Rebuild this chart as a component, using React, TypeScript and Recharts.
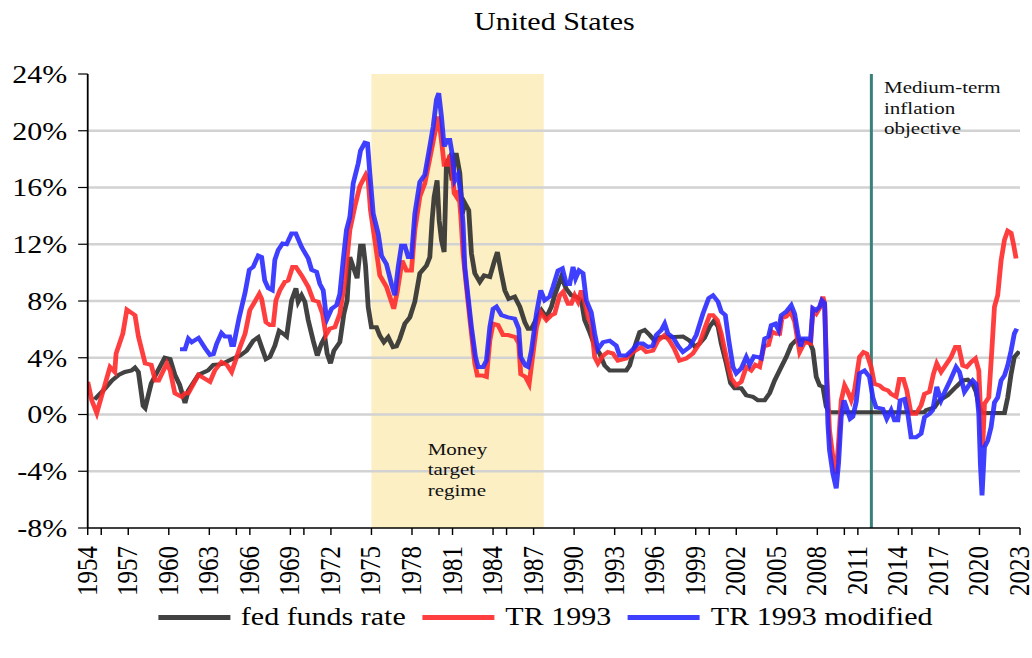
import { LineChart, Line, XAxis, YAxis, ReferenceLine, ReferenceArea } from 'recharts';

const FONT = '"Liberation Serif", "Times New Roman", serif';

// fed funds rate (black)
const fedYears = [
  1954.5, 1955.0, 1955.3, 1955.8, 1956.3, 1956.75, 1957.25, 1957.5, 1957.75, 1958.1, 1958.25, 1958.7,
  1959.2, 1959.7, 1960.1, 1960.45, 1960.8, 1961.2, 1961.45, 1962.2, 1962.9, 1963.3, 1963.9, 1964.65,
  1965.27, 1965.76, 1966.25, 1966.62, 1966.87, 1967.19, 1967.48, 1967.85, 1968.17, 1968.47, 1968.72, 1969.09,
  1969.41, 1969.58, 1969.83, 1970.07, 1970.32, 1970.69, 1970.99, 1971.3, 1971.55, 1971.72, 1971.97, 1972.22,
  1972.66, 1972.96, 1973.2, 1973.4, 1973.65, 1973.94, 1974.19, 1974.39, 1974.56, 1974.76, 1975.0, 1975.37,
  1975.62, 1975.92, 1976.24, 1976.6, 1976.85, 1977.1, 1977.47, 1977.84, 1978.21, 1978.58, 1979.07, 1979.32,
  1979.49, 1979.64, 1979.86, 1980.01, 1980.18, 1980.38, 1980.55, 1980.75, 1980.97, 1981.17, 1981.29, 1981.54,
  1981.73, 1981.91, 1982.2, 1982.4, 1982.65, 1983.02, 1983.34, 1983.76, 1984.08, 1984.32, 1984.57, 1984.87,
  1985.16, 1985.6, 1985.98, 1986.35, 1986.59, 1986.84, 1987.21, 1987.58, 1987.95, 1988.32, 1988.56, 1989.05,
  1989.42, 1989.79, 1990.16, 1990.53, 1990.78, 1991.15, 1991.52, 1991.89, 1992.26, 1992.63, 1993.86, 1994.11,
  1994.48, 1994.85, 1995.22, 1995.59, 1995.96, 1996.33, 1997.06, 1998.05, 1998.55, 1998.92, 1999.28, 1999.65,
  2000.03, 2000.35, 2000.65, 2000.89, 2001.26, 2001.58, 2001.88, 2002.37, 2002.74, 2003.23, 2003.6, 2004.1,
  2004.47, 2004.84, 2005.33, 2005.7, 2006.07, 2006.44, 2006.93, 2007.43, 2007.67, 2007.92, 2008.17, 2008.41,
  2008.66, 2008.9, 2015.9, 2016.05, 2016.67, 2017.04, 2017.65, 2018.27, 2018.76, 2019.13, 2019.5, 2019.75,
  2020.0, 2020.19, 2021.85, 2022.09, 2022.34, 2022.58, 2022.95,
];
const fedRate = [
  1.05, 1.55, 1.85, 2.4, 2.8, 3.0, 3.1, 3.3, 3.0, 0.6, 0.45, 2.2,
  3.1, 4.0, 3.9, 2.8, 2.1, 0.8, 1.7, 2.8, 3.1, 3.5, 3.55, 3.9,
  4.15, 4.5, 5.2, 5.45, 4.75, 3.9, 4.05, 4.85, 5.9, 5.7, 5.5, 8.05,
  8.9, 7.95, 8.4, 7.95, 6.65, 5.2, 4.15, 5.0, 5.45, 4.3, 3.6, 4.5,
  5.1, 7.1, 8.05, 11.1, 10.4, 9.6, 11.9, 11.9, 10.5, 7.55, 6.15, 6.15,
  5.55, 5.1, 5.45, 4.75, 4.8, 5.35, 6.4, 6.85, 7.95, 9.95, 10.5, 11.1,
  13.7, 15.35, 16.5, 13.7, 12.3, 11.45, 17.7, 18.05, 16.5, 18.3, 18.3, 17.0,
  14.15, 14.9, 14.4, 11.35, 9.95, 9.35, 9.8, 9.7, 10.75, 11.45, 10.15, 8.75,
  8.15, 8.3, 7.6, 6.5, 6.05, 6.05, 6.75, 7.35, 6.85, 7.6, 8.4, 9.7,
  8.85, 8.4, 8.3, 8.05, 6.65, 5.8, 4.85, 4.3, 3.45, 3.1, 3.1, 3.45,
  4.75, 5.8, 5.95, 5.6, 5.2, 5.45, 5.45, 5.5, 5.2, 4.8, 5.0, 5.4,
  6.2, 6.6, 6.2, 5.0, 3.6, 2.2, 1.85, 1.85, 1.35, 1.25, 1.0, 1.0,
  1.5, 2.4, 3.35, 4.05, 4.9, 5.25, 5.25, 5.1, 4.55, 2.65, 2.05, 1.95,
  0.55, 0.15, 0.15, 0.3, 0.5, 1.0, 1.35, 1.95, 2.4, 2.45, 2.15, 1.6,
  0.5, 0.1, 0.1, 1.2, 2.85, 4.05, 4.45,
];

// TR 1993 (red)
const trYears = [
  1954.0, 1954.3, 1954.67, 1955.15, 1955.65, 1956.0, 1956.1, 1956.6, 1956.9, 1957.5, 1957.75, 1958.25,
  1958.7, 1959.0, 1959.25, 1959.85, 1960.1, 1960.45, 1960.95, 1961.2, 1961.45, 1962.2, 1963.05, 1963.4,
  1963.9, 1964.3, 1964.65, 1965.27, 1965.65, 1966.0, 1966.37, 1966.7, 1966.87, 1967.19, 1967.48, 1967.73,
  1967.93, 1968.22, 1968.59, 1968.84, 1969.16, 1969.41, 1969.83, 1970.32, 1970.69, 1971.06, 1971.38, 1971.63,
  1971.92, 1972.29, 1972.66, 1973.03, 1973.4, 1973.77, 1974.14, 1974.58, 1974.76, 1974.93, 1975.25, 1975.62,
  1976.11, 1976.41, 1976.65, 1976.9, 1977.27, 1977.59, 1977.96, 1978.21, 1978.58, 1978.95, 1979.32, 1979.64,
  1979.93, 1980.06, 1980.23, 1980.38, 1980.63, 1980.8, 1980.97, 1981.12, 1981.29, 1981.46, 1981.61, 1981.78,
  1982.03, 1982.35, 1982.65, 1982.84, 1983.19, 1983.51, 1983.76, 1984.0, 1984.37, 1984.74, 1985.11, 1985.65,
  1985.9, 1986.05, 1986.4, 1986.67, 1986.89, 1987.21, 1987.53, 1987.95, 1988.32, 1988.56, 1988.93, 1989.18,
  1989.55, 1989.79, 1990.04, 1990.29, 1990.53, 1990.78, 1991.03, 1991.27, 1991.52, 1991.76, 1992.14, 1992.5,
  1992.87, 1993.24, 1993.86, 1994.35, 1994.97, 1995.34, 1995.83, 1996.2, 1996.7, 1997.06, 1997.43, 1997.8,
  1998.3, 1998.79, 1999.28, 1999.66, 2000.03, 2000.28, 2000.6, 2000.89, 2001.26, 2001.63, 2002.0, 2002.37,
  2002.74, 2003.11, 2003.41, 2003.73, 2004.05, 2004.39, 2004.64, 2004.96, 2005.21, 2005.38, 2005.7, 2006.02,
  2006.32, 2006.69, 2007.06, 2007.5, 2007.67, 2007.92, 2008.17, 2008.41, 2008.54, 2008.71, 2008.9, 2009.15,
  2009.4, 2009.6, 2009.77, 2010.02, 2010.26, 2010.51, 2010.75, 2011.12, 2011.42, 2011.66, 2011.98, 2012.23,
  2012.6, 2012.9, 2013.22, 2013.46, 2013.83, 2014.08, 2014.37, 2014.62, 2014.94, 2015.31, 2015.68, 2015.93,
  2016.3, 2016.59, 2016.84, 2017.16, 2017.58, 2017.9, 2018.22, 2018.47, 2018.76, 2019.06, 2019.38, 2019.7,
  2019.95, 2020.12, 2020.24, 2020.37, 2020.69, 2020.93, 2021.11, 2021.35, 2021.6, 2021.85, 2022.09, 2022.34,
  2022.51, 2022.71,
];
const trRate = [
  2.3, 1.0, 0.1, 1.7, 3.35, 3.0, 4.3, 5.7, 7.4, 7.0, 5.5, 3.6,
  3.5, 2.4, 2.4, 3.6, 3.1, 1.5, 1.25, 1.5, 1.5, 2.8, 2.3, 3.1,
  3.7, 3.5, 3.0, 4.75, 5.7, 7.35, 7.95, 8.5, 8.15, 6.5, 6.3, 6.3,
  8.05, 8.75, 9.35, 9.45, 10.4, 10.4, 9.8, 9.0, 8.05, 7.95, 7.1, 5.6,
  6.05, 6.15, 7.1, 9.45, 13.0, 14.65, 16.1, 16.9, 16.5, 14.4, 12.3, 9.8,
  9.0, 8.15, 7.45, 8.6, 10.85, 10.15, 10.15, 13.0, 15.35, 16.3, 18.05, 19.6,
  21.0, 20.3, 18.9, 17.6, 17.6, 18.3, 17.45, 15.6, 15.35, 15.8, 14.05, 11.35,
  9.0, 6.15, 3.6, 2.75, 2.75, 2.65, 5.2, 6.4, 6.3, 5.6, 5.6, 5.45,
  5.0, 2.85, 2.65, 2.15, 3.8, 6.15, 7.2, 6.65, 7.0, 7.1, 8.4, 8.65,
  7.8, 7.8, 8.4, 7.95, 8.75, 7.95, 6.85, 6.4, 4.05, 3.6, 4.15, 4.4,
  4.3, 3.8, 3.95, 4.4, 4.75, 4.4, 4.5, 5.2, 5.6, 5.2, 4.6, 3.8,
  3.95, 4.3, 5.0, 6.05, 7.0, 7.0, 6.65, 5.7, 4.05, 2.55, 2.05, 2.3,
  3.35, 3.1, 3.5, 3.35, 4.8, 4.9, 5.85, 5.7, 5.7, 6.8, 6.9, 7.25,
  6.55, 4.4, 5.1, 5.0, 7.35, 7.1, 7.5, 8.3, 7.85, 2.65, -1.1, -3.0,
  -4.15, -1.6, 1.0, 2.05, 1.6, 1.0, 1.7, 4.05, 4.4, 4.3, 3.35, 2.15,
  2.05, 1.8, 1.7, 1.45, 1.25, 2.5, 2.5, 1.7, 0.05, 0.05, 0.65, 1.45,
  1.6, 2.85, 3.6, 3.0, 3.6, 4.05, 4.75, 4.75, 3.45, 3.35, 3.7, 3.95,
  3.1, -0.65, -2.3, 0.75, 1.2, 4.75, 7.6, 8.4, 10.85, 12.3, 12.95, 12.8,
  12.05, 11.0,
];

// TR 1993 modified (blue)
const trModYears = [
  1960.83, 1961.2, 1961.45, 1961.7, 1962.2, 1962.7, 1963.05, 1963.3, 1963.55, 1963.9, 1964.15, 1964.5,
  1964.65, 1964.8, 1965.2, 1965.65, 1965.96, 1966.25, 1966.62, 1966.87, 1967.1, 1967.36, 1967.66, 1967.85,
  1968.1, 1968.42, 1968.72, 1969.09, 1969.4, 1969.83, 1970.32, 1970.57, 1970.94, 1971.18, 1971.43, 1971.63,
  1971.72, 1972.05, 1972.42, 1972.66, 1972.91, 1973.15, 1973.4, 1973.65, 1974.02, 1974.19, 1974.51, 1974.71,
  1974.88, 1975.13, 1975.5, 1975.74, 1976.11, 1976.48, 1976.73, 1976.98, 1977.22, 1977.47, 1977.72, 1977.96,
  1978.21, 1978.58, 1978.95, 1979.32, 1979.57, 1979.81, 1979.98, 1980.18, 1980.38, 1980.63, 1980.8, 1980.97,
  1981.17, 1981.41, 1981.61, 1981.78, 1981.91, 1982.15, 1982.4, 1982.7, 1982.89, 1983.26, 1983.51, 1983.76,
  1984.0, 1984.25, 1984.62, 1985.11, 1985.6, 1985.9, 1986.05, 1986.4, 1986.59, 1986.84, 1987.21, 1987.53,
  1987.82, 1988.19, 1988.44, 1988.81, 1989.13, 1989.42, 1989.67, 1989.92, 1990.11, 1990.36, 1990.66, 1990.9,
  1991.27, 1991.52, 1991.76, 1992.14, 1992.63, 1993.12, 1993.37, 1993.86, 1994.35, 1994.72, 1995.09, 1995.46,
  1995.83, 1996.08, 1996.45, 1996.7, 1996.94, 1997.31, 1997.68, 1998.05, 1998.55, 1999.04, 1999.53, 1999.96,
  2000.28, 2000.65, 2000.89, 2001.19, 2001.44, 2001.76, 2002.0, 2002.37, 2002.74, 2002.99, 2003.31, 2003.6,
  2003.85, 2004.1, 2004.39, 2004.59, 2004.89, 2005.13, 2005.33, 2005.7, 2006.07, 2006.32, 2006.56, 2006.76,
  2006.93, 2007.3, 2007.5, 2007.67, 2007.92, 2008.17, 2008.34, 2008.54, 2008.66, 2008.78, 2008.9, 2009.15,
  2009.4, 2009.57, 2009.77, 2009.97, 2010.14, 2010.43, 2010.63, 2010.88, 2011.12, 2011.49, 2011.86, 2012.11,
  2012.35, 2012.85, 2013.14, 2013.46, 2013.71, 2013.96, 2014.13, 2014.45, 2014.7, 2014.94, 2015.31, 2015.68,
  2015.93, 2016.3, 2016.54, 2016.84, 2017.16, 2017.48, 2017.83, 2018.27, 2018.52, 2018.89, 2019.21, 2019.5,
  2019.75, 2019.95, 2020.07, 2020.19, 2020.37, 2020.61, 2020.86, 2021.11, 2021.35, 2021.6, 2021.85, 2022.09,
  2022.34, 2022.58, 2022.76,
];
const trModRate = [
  4.6, 4.6, 5.35, 5.1, 5.4, 4.65, 4.2, 4.25, 5.0, 5.75, 5.5, 5.5,
  4.9, 4.9, 6.8, 8.6, 10.2, 10.4, 11.2, 11.1, 9.45, 8.9, 8.75, 10.9,
  11.6, 12.05, 12.0, 12.75, 12.75, 11.8, 11.0, 10.2, 10.05, 9.2, 8.75, 7.1,
  6.75, 7.45, 7.7, 8.5, 10.9, 13.0, 13.9, 16.3, 17.7, 18.6, 19.15, 19.1,
  17.0, 14.15, 12.75, 11.2, 10.6, 9.2, 8.4, 10.4, 11.9, 11.9, 11.1, 11.1,
  14.15, 16.4, 16.9, 18.9, 20.3, 22.2, 22.65, 21.0, 18.9, 19.35, 19.35, 18.4,
  16.5, 16.9, 15.6, 13.45, 10.4, 8.3, 6.15, 4.05, 3.35, 3.35, 3.8, 6.15,
  7.45, 7.6, 7.0, 6.85, 6.75, 6.05, 4.05, 3.45, 3.35, 4.5, 7.1, 8.75,
  8.05, 8.3, 9.0, 10.15, 10.3, 9.2, 9.2, 10.4, 9.6, 10.15, 9.95, 8.05,
  7.2, 5.7, 4.6, 5.1, 5.2, 4.85, 4.15, 4.15, 4.6, 5.0, 5.0, 4.75,
  4.85, 5.6, 5.95, 6.4, 5.7, 5.45, 4.85, 4.4, 4.75, 5.6, 7.1, 8.2,
  8.4, 7.95, 7.25, 7.0, 5.25, 3.35, 2.9, 3.25, 4.05, 3.5, 4.1, 4.05,
  3.95, 5.35, 5.5, 6.3, 6.4, 5.95, 7.0, 7.25, 7.7, 7.1, 5.7, 4.8,
  5.35, 5.35, 5.25, 7.5, 7.35, 7.6, 8.05, 7.85, 3.35, -0.65, -2.5, -4.15,
  -5.2, -3.45, -0.15, 1.0, 0.55, -0.3, -0.15, 0.9, 2.9, 3.1, 2.65, 1.2,
  0.5, 0.4, -0.3, 0.3, -0.4, -0.4, 1.0, 1.1, 0.05, -1.6, -1.6, -1.35,
  -0.2, 0.05, 0.3, 1.95, 1.0, 1.7, 2.4, 3.35, 3.0, 1.6, 2.05, 2.4,
  2.15, 0.05, -3.5, -5.7, -2.3, -1.85, -0.9, 0.85, 1.2, 2.4, 2.75, 3.45,
  4.5, 5.7, 6.05,
];

const yTicks = [-8, -4, 0, 4, 8, 12, 16, 20, 24];
const gridValues = [-4, 0, 4, 8, 12, 16, 20];
// labelled every 3 years, extra unlabelled marks every 5 years
const xTicks = [
  1954, 1955, 1957, 1960, 1963, 1965, 1966, 1969, 1970, 1972, 1975, 1978, 1980, 1981, 1984, 1985, 1987,
  1990, 1993, 1995, 1996, 1999, 2000, 2002, 2005, 2008, 2010, 2011, 2014, 2015, 2017, 2020, 2023,
];
const moneyTarget = [1975, 1987.75];
const inflationObjective = 2012;

const series = [
  { name: 'fed funds rate', color: '#2e2e2e', data: fedYears.map((year, i) => ({ year, value: fedRate[i] })) },
  { name: 'TR 1993', color: '#ff2a2a', data: trYears.map((year, i) => ({ year, value: trRate[i] })) },
  { name: 'TR 1993 modified', color: '#2a2aff', data: trModYears.map((year, i) => ({ year, value: trModRate[i] })) },
];

function YearTick({ x, y, payload }: any) {
  const yr = payload.value;
  if ((yr - 1954) % 3 !== 0) return <g />;
  return (
    <text
      x={x}
      y={y}
      dy="0.3em"
      transform={`rotate(-90 ${x} ${y})`}
      textAnchor="end"
      fontFamily={FONT}
      fontSize={25}
      fill="#000"
    >
      {yr}
    </text>
  );
}

const noteStyle = {
  position: 'absolute' as const,
  fontFamily: FONT,
  fontSize: 17.5,
  lineHeight: '20.3px',
  color: '#111',
  pointerEvents: 'none' as const,
};

export default function App() {
  return (
    <div
      style={{
        position: 'absolute',
        left: 0,
        top: 0,
        width: 860,
        height: 658,
        transform: 'scaleX(1.2)',
        transformOrigin: '0 0',
        background: '#fff',
      }}
    >
      <div
        style={{
          position: 'absolute',
          left: 262,
          width: 400,
          top: 9,
          textAlign: 'center',
          fontFamily: FONT,
          fontSize: 25,
          lineHeight: '25px',
        }}
      >
        United States
      </div>

      <LineChart width={860} height={658} margin={{ top: 74, right: 10, left: 0, bottom: 60 }}>
        <XAxis
          type="number"
          dataKey="year"
          domain={[1954, 2023]}
          ticks={xTicks}
          interval={0}
          allowDataOverflow
          height={70}
          tick={<YearTick />}
          tickSize={7}
          tickMargin={11}
          axisLine={{ stroke: '#000', strokeWidth: 1.5 }}
          tickLine={{ stroke: '#000', strokeWidth: 1.2 }}
        />
        <YAxis
          type="number"
          domain={[-8, 24]}
          ticks={yTicks}
          interval={0}
          width={73.1}
          tickFormatter={(v: number) => `${v}%`}
          tick={{ fontFamily: FONT, fontSize: 25, fill: '#000' }}
          tickSize={8}
          tickMargin={9}
          axisLine={{ stroke: '#000', strokeWidth: 1.5 }}
          tickLine={{ stroke: '#000', strokeWidth: 1.2 }}
        />
        <ReferenceArea
          x1={moneyTarget[0]}
          x2={moneyTarget[1]}
          y1={-8}
          y2={24}
          fill="#fcefc4"
          fillOpacity={1}
          stroke="none"
        />
        {gridValues.map(v => (
          <ReferenceLine key={v} y={v} stroke="#d2d2d2" strokeWidth={2.5} />
        ))}
        <ReferenceLine x={inflationObjective} stroke="#3a807c" strokeWidth={2.5} />
        {series.map(s => (
          <Line
            key={s.name}
            data={s.data}
            dataKey="value"
            name={s.name}
            type="linear"
            stroke={s.color}
            strokeOpacity={0.9}
            strokeWidth={4}
            dot={false}
            isAnimationActive={false}
          />
        ))}
      </LineChart>

      <div style={{ ...noteStyle, left: 356.4, top: 439 }}>
        Money
        <br />
        target
        <br />
        regime
      </div>
      <div style={{ ...noteStyle, left: 736.7, top: 77.4 }}>
        Medium-term
        <br />
        inflation
        <br />
        objective
      </div>

      <div
        style={{
          position: 'absolute',
          left: 131.7,
          top: 602,
          height: 30,
          display: 'flex',
          alignItems: 'center',
          fontFamily: FONT,
          fontSize: 25,
          lineHeight: '30px',
          whiteSpace: 'nowrap',
        }}
      >
        {series.map(s => (
          <div key={s.name} style={{ display: 'flex', alignItems: 'center', marginRight: 14 }}>
            <span style={{ display: 'inline-block', width: 60, height: 5, background: s.color, opacity: 0.9, marginRight: 9 }} />
            <span>{s.name}</span>
          </div>
        ))}
      </div>
    </div>
  );
}
